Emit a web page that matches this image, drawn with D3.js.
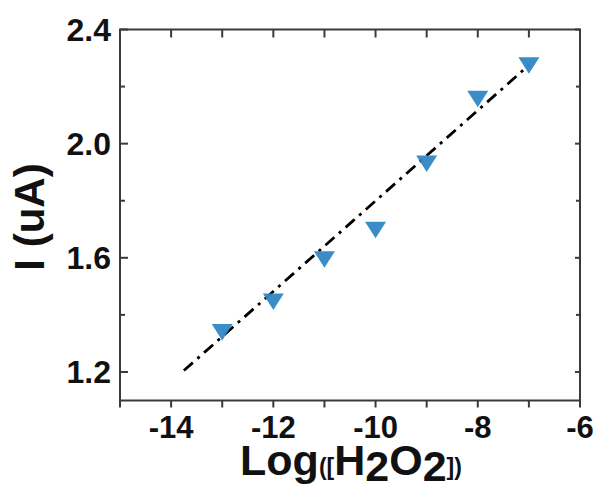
<!DOCTYPE html>
<html>
<head>
<meta charset="utf-8">
<script src="https://cdn.jsdelivr.net/npm/d3@7"></script>
<style>
  body { margin: 0; background: #fff; }
  text { font-family: "Liberation Sans", Arial, sans-serif; font-weight: bold; fill: #111; }
</style>
</head>
<body>
<svg id="chart" width="598" height="487"></svg>
<script>
// data
var logConc = [-13, -12, -11, -10, -9, -8, -7]
var current = [1.345, 1.452, 1.600, 1.704, 1.936, 2.163, 2.280]
var fitX = [-13.75, -7]
var fitY = [1.205, 2.275]
var xMajor = [-14, -12, -10, -8, -6]
var xMinor = [-15, -13, -11, -9, -7]
var yMajor = [1.2, 1.6, 2.0, 2.4]
var yMinor = [1.4, 1.8, 2.2]

var svg = d3.select("#chart")
var dims = {left: 120, right: 580, top: 29.5, bottom: 400.5}
var axisColor = "#3a3a3a"
var markerFill = "#2f87c4"

var xScale = d3.scaleLinear().domain([-15, -6]).range([dims.left, dims.right])
var yScale = d3.scaleLinear().domain([1.1, 2.4]).range([dims.bottom, dims.top])

// frame
svg.append("rect")
   .attr("x", dims.left).attr("y", dims.top)
   .attr("width", dims.right - dims.left).attr("height", dims.bottom - dims.top)
   .attr("fill", "none").attr("stroke", axisColor).attr("stroke-width", 2)

// ticks
var ticks = svg.append("g").attr("stroke", axisColor).attr("stroke-width", 2)
xMajor.concat(xMinor).forEach(v => {
    var x = xScale(v)
    ticks.append("line").attr("x1", x).attr("x2", x).attr("y1", dims.bottom).attr("y2", dims.bottom + 7)
    ticks.append("line").attr("x1", x).attr("x2", x).attr("y1", dims.top).attr("y2", dims.top + 8)
})
yMajor.forEach(v => {
    var y = yScale(v)
    ticks.append("line").attr("x1", dims.left).attr("x2", dims.left + 8).attr("y1", y).attr("y2", y)
    ticks.append("line").attr("x1", dims.right).attr("x2", dims.right - 5).attr("y1", y).attr("y2", y)
})
yMinor.forEach(v => {
    var y = yScale(v)
    ticks.append("line").attr("x1", dims.left).attr("x2", dims.left + 5).attr("y1", y).attr("y2", y)
    ticks.append("line").attr("x1", dims.right).attr("x2", dims.right - 4).attr("y1", y).attr("y2", y)
})

// tick labels
svg.append("g").selectAll("text")
   .data(xMajor).enter().append("text")
   .attr("x", d => xScale(d))
   .attr("y", dims.bottom + 37)
   .attr("text-anchor", "middle")
   .attr("font-size", 31)
   .text(d => d)

svg.append("g").selectAll("text")
   .data(yMajor).enter().append("text")
   .attr("x", dims.left - 9)
   .attr("y", d => yScale(d) + 11)
   .attr("text-anchor", "end")
   .attr("font-size", 32)
   .text(d => d.toFixed(1))

// fit line
var line = d3.line().x(d => xScale(d[0])).y(d => yScale(d[1]))
svg.append("path")
   .attr("d", line(d3.zip(fitX, fitY)))
   .attr("fill", "none")
   .attr("stroke", "#000")
   .attr("stroke-width", 2.8)
   .attr("stroke-dasharray", "12,6,3,6")

// markers: downward triangles
svg.append("g").selectAll("path")
   .data(d3.zip(logConc, current)).enter().append("path")
   .attr("transform", d => `translate(${xScale(d[0])},${yScale(d[1])})`)
   .attr("d", "M-10.5,-6.5L10.5,-6.5L0,10Z")
   .attr("fill", markerFill)
   .attr("fill-opacity", 0.95)

// axis titles
var yMid = 217
svg.append("text")
   .attr("transform", `rotate(-90, 44, ${yMid})`)
   .attr("x", 44)
   .attr("y", yMid)
   .attr("text-anchor", "middle")
   .attr("font-size", 42)
   .text("I (uA)")

var xTitle = svg.append("text")
   .attr("x", 351)
   .attr("y", 475)
   .attr("text-anchor", "middle")
   .attr("font-size", 43)
xTitle.append("tspan").text("Log")
xTitle.append("tspan").attr("font-size", 23).text("([")
xTitle.append("tspan").text("H")
xTitle.append("tspan").attr("dy", 6).text("2")
xTitle.append("tspan").attr("dy", -6).text("O")
xTitle.append("tspan").attr("dy", 6).text("2")
xTitle.append("tspan").attr("dy", -6).attr("font-size", 23).text("])")
</script>
</body>
</html>
